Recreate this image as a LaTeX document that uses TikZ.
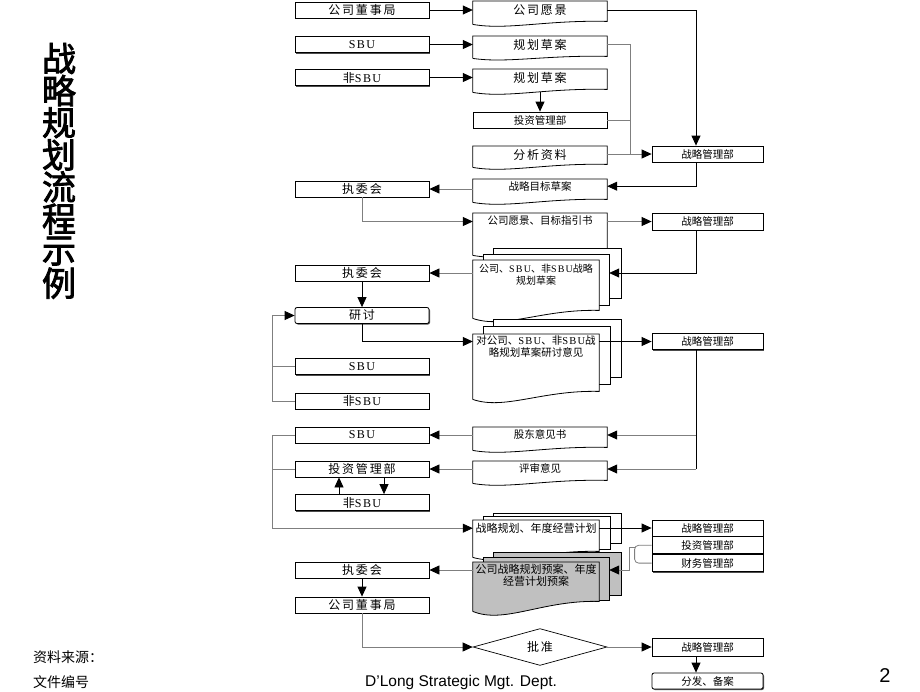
\documentclass[tikz,border=0pt]{standalone}
\usepackage{fontspec}
\setmainfont{Liberation Serif}
\newfontfamily\zh{Noto Sans CJK SC}
\newfontfamily\zhw{Noto Sans CJK SC}[LetterSpace=15]
\newfontfamily\zhbig{Noto Sans CJK SC}[FakeBold=2.5]
\newfontfamily\sbu{Liberation Serif}[LetterSpace=12]
\newfontfamily\arial{Liberation Sans}
\usetikzlibrary{arrows.meta,positioning,calc,shapes.geometric,shadows}
\definecolor{LineGray}{HTML}{7F7F7F}
\definecolor{PageGray}{HTML}{C0C0C0}
\newcommand\SBU{{\sbu SBU}}
% document outline below a doc node: #2 node, #3 depth of wave, #4 rise at right
\newcommand\docwave[4][white]{%
 \fill[#1] ($(#2.south west)+(0,-1)$) -- ($(#2.south east)+(0,-1)$) -- ($(#2.south east)+(0,#3-#4)$)
  .. controls ($(#2.south west)!.55!(#2.south east)+(0,#3-#4-1.5)$) and ($(#2.south west)!.25!(#2.south east)+(0,#3+#4+3)$) .. ($(#2.south west)+(0,#3)$) -- cycle;
 \draw[line width=.8pt] ($(#2.south west)+(0,#3)$) -- (#2.north west) -- (#2.north east) -- ($(#2.south east)+(0,#3-#4)$)
  .. controls ($(#2.south west)!.55!(#2.south east)+(0,#3-#4-1.5)$) and ($(#2.south west)!.25!(#2.south east)+(0,#3+#4+3)$) .. ($(#2.south west)+(0,#3)$);}
\tikzset{lbig/.style={font=\zhw\fontsize{12}{14}\selectfont},
 lsmall/.style={font=\zh\fontsize{10.5}{12.5}\selectfont},
 box/.style={draw,fill=white,line width=.8pt,minimum width=134pt,minimum height=16pt,inner sep=0pt,lbig,
  drop shadow={shadow xshift=1pt,shadow yshift=-1pt,fill=black,opacity=.7}},
 rbox/.style={box,minimum width=111pt,lsmall},
 doc/.style={fill=white,minimum width=134pt,inner sep=1pt,anchor=north,align=center,lsmall},
 backpage/.style={fill=white,draw,line width=.8pt},
 ln/.style={black,line width=.8pt},
 lg/.style={LineGray,line width=.8pt},
 arr/.style={-{Triangle[length=10pt,width=9pt,color=black]}}}
\begin{document}
\begin{tikzpicture}[x=1pt,y=-1pt]
\fill[white] (0,0) rectangle (920,691);
\useasboundingbox (0,0) rectangle (920,691);
\coordinate (vx) at (696,0);
\coordinate (bus) at (630,0);
\coordinate (lp) at (272,0);
% title
\foreach \c [count=\i from 0] in {战,略,规,划,流,程,示,例}
 \node[font=\zhbig\fontsize{34}{34}\selectfont,inner sep=0pt] (t\i) at (59,58.5+32.1*\i) {\c};
% left column
\node[box] (dsj) at (362,10) {公司董事局};
\node[box] (sbu1) at (362,44.5) {\SBU};
\node[box] (fsbu1) at (362,77.5) {非\SBU};
\node[box] (zwh1) at (362,189) {执委会};
\node[box] (zwh2) at (362,273) {执委会};
\node[box,rounded corners=2pt] (yt) at (362,315.5) {研讨};
\node[box] (sbu2) at (362,366.5) {\SBU};
\node[box] (fsbu2) at (362,401) {非\SBU};
\node[box] (sbu3) at (362,435) {\SBU};
\node[box] (tzb) at (362,469) {投资管理部};
\node[box] (fsbu3) at (362,502.5) {非\SBU};
\node[box] (zwh3) at (362,570) {执委会};
\node[box] (dsj2) at (362,605) {公司董事局};
% middle column
\node[doc,lbig,minimum height=18pt] (yj) at (540,1) {公司愿景}; \docwave{yj}{5}{3}
\node[doc,lbig,minimum height=18pt] (ca1) at (540,36) {规划草案}; \docwave{ca1}{4}{2}
\node[doc,lbig,minimum height=18pt] (ca2) at (540,69) {规划草案}; \docwave{ca2}{5}{3}
\node[box,lsmall] (tzb0) at (540,120) {投资管理部};
\node[doc,lbig,minimum height=17pt] (fx) at (540,146) {分析资料}; \docwave{fx}{4}{3}
\node[doc,minimum height=14pt] (mb) at (540,179) {战略目标草案}; \docwave{mb}{9}{3}
\node[doc,minimum height=14pt] (zy) at (540,213) {公司愿景、目标指引书}; \docwave{zy}{28}{3}
\filldraw[backpage] (493,248) rectangle (621,298);
\filldraw[backpage] (483,254) rectangle (609,305);
\node[doc,font=\zh\fontsize{10}{12}\selectfont,minimum width=126pt,minimum height=28pt] (cg) at (536,260)
 {公司、\SBU{}、非\SBU{}战略\\规划草案}; \docwave{cg}{30}{8}
\filldraw[backpage] (493,319) rectangle (621,377);
\filldraw[backpage] (483,326) rectangle (610,384);
\node[doc,minimum width=126pt,minimum height=25pt] (yj2) at (536,334)
 {对公司、\SBU{}、非\SBU{}战\\略规划草案研讨意见}; \docwave{yj2}{40}{8}
\node[doc,minimum height=14pt] (gd) at (540,427) {股东意见书}; \docwave{gd}{9}{3}
\node[doc,minimum height=14pt] (ps) at (540,461) {评审意见}; \docwave{ps}{8}{3}
\filldraw[backpage] (493,513) rectangle (621,543);
\filldraw[backpage] (483,516) rectangle (610,549);
\node[doc,font=\zh\fontsize{11}{13}\selectfont,minimum width=126pt,minimum height=16pt] (jh) at (536,520)
 {战略规划、年度经营计划}; \docwave{jh}{21}{6}
\filldraw[backpage,fill=PageGray] (493,552) rectangle (621,595);
\filldraw[backpage,fill=PageGray] (483,557) rectangle (609,600);
\node[doc,fill=PageGray,font=\zh\fontsize{11}{12.5}\selectfont,minimum width=126pt,minimum height=26pt] (ya) at (536,562)
 {公司战略规划预案、年度\\经营计划预案}; \docwave[PageGray]{ya}{23}{10}
\node[diamond,draw,line width=.7pt,minimum width=134pt,minimum height=33pt,inner sep=0pt,lbig] (pz) at (540,647) {批准};
% right column
\node[rbox] (zl1) at (707.5,154) {战略管理部};
\node[rbox,minimum height=17pt] (zl2) at (707.5,221.5) {战略管理部};
\node[rbox] (zl3) at (707.5,341.5) {战略管理部};
\node[rbox] (zl4) at (707.5,528) {战略管理部};
\node[rbox,minimum height=17pt,below=0pt of zl4] (tz4) {投资管理部};
\node[rbox,minimum height=17pt,below=0pt of tz4] (cw4) {财务管理部};
\node[rbox,minimum height=18pt] (zl5) at (707.5,647) {战略管理部};
\node[rbox,rounded corners=2pt] (ff) at (707.5,681) {分发、备案};
% connectors
\draw[ln,arr] (dsj.east) -- (yj.west |- dsj);
\draw[ln,arr] (sbu1.east) -- (ca1.west |- sbu1);
\draw[ln,arr] (fsbu1.east) -- (ca2.west |- fsbu1);
\draw[ln,arr] ($(ca2.south)+(0,5)$) -- (tzb0.north);
\draw[ln,arr] (yj.east |- dsj) -| (zl1.north -| vx);
\draw[lg] (ca1.east |- sbu1) -| (zl1.west -| bus);
\draw[lg] (tzb0.east) -- (tzb0.east -| bus);
\draw[lg,arr] (fx.east |- zl1) -- (zl1.west);
\draw[ln,arr] (zl1.south -| vx) |- (mb.east);
\draw[lg,arr] (mb.west |- zwh1) -- (zwh1.east);
\draw[lg,arr] (zwh1.south) |- (zy.west |- zl2);
\draw[lg,arr] (zy.east |- zl2) -- (zl2.west);
\draw[ln,arr] (zl2.south -| vx) |- ($(cg.east |- zwh2)+(10,0)$);
\draw[lg,arr] (cg.west |- zwh2) -- (zwh2.east);
\draw[ln,arr] (zwh2) -- (yt);
\draw[ln,arr] (yt.south) |- (yj2.west |- zl3);
\draw[ln,arr] (yj2.east |- zl3) -- (zl3.west);
\draw[ln] (zl3.south -| vx) -- (vx |- tzb);
\draw[lg,arr] (vx |- sbu3) -- (gd.east |- sbu3);
\draw[lg,arr] (vx |- tzb) -- (ps.east |- tzb);
\draw[lg,arr] (gd.west |- sbu3) -- (sbu3.east);
\draw[lg,arr] (ps.west |- tzb) -- (tzb.east);
\draw[ln,arr] ($(fsbu3.north)+(-23,0)$) -- ($(tzb.south)+(-23,0)$);
\draw[ln,arr] ($(tzb.south)+(22,0)$) -- ($(fsbu3.north)+(22,0)$);
\draw[lg,arr] (fsbu2.west) -| (lp |- yt) -- (yt.west);
\draw[lg] (sbu2.west) -- (sbu2.west -| lp);
\draw[lg,arr] (sbu3.west) -| (lp |- jh) -- (jh.west);
\draw[lg] (tzb.west) -- (tzb.west -| lp);
\draw[ln,arr] (jh.east |- zl4) -- (zl4.west);
\draw[lg,rounded corners=4pt] (tz4.west) -- ++(-17,0) |- (cw4.west);
\draw[lg,arr] ($(tz4.west)+(-17,2)$) -- ++(-5,0) |- ($(ya.east |- zwh3)+(10,0)$);
\draw[lg,arr] (ya.west |- zwh3) -- (zwh3.east);
\draw[ln,arr] (zwh3) -- (dsj2);
\draw[lg,arr] (dsj2.south) |- (pz.west);
\draw[lg,arr] (pz.east) -- (zl5.west);
\draw[ln,arr] (zl5.south -| vx) -- (ff.north -| vx);
% footer
\node[anchor=west,font=\zh\fontsize{14}{16}\selectfont,inner sep=0pt] (ly) at (33,657) {资料来源：};
\node[anchor=west,font=\zh\fontsize{14}{16}\selectfont,inner sep=0pt] (bh) at (33,682) {文件编号};
\node[anchor=west,font=\arial\fontsize{15.5}{18}\selectfont,inner sep=0pt] (dl) at (365,682) {D’Long Strategic Mgt. Dept.};
\node[font=\arial\fontsize{20}{22}\selectfont,inner sep=0pt] (pg) at (885,676) {2};
\end{tikzpicture}
\end{document}
